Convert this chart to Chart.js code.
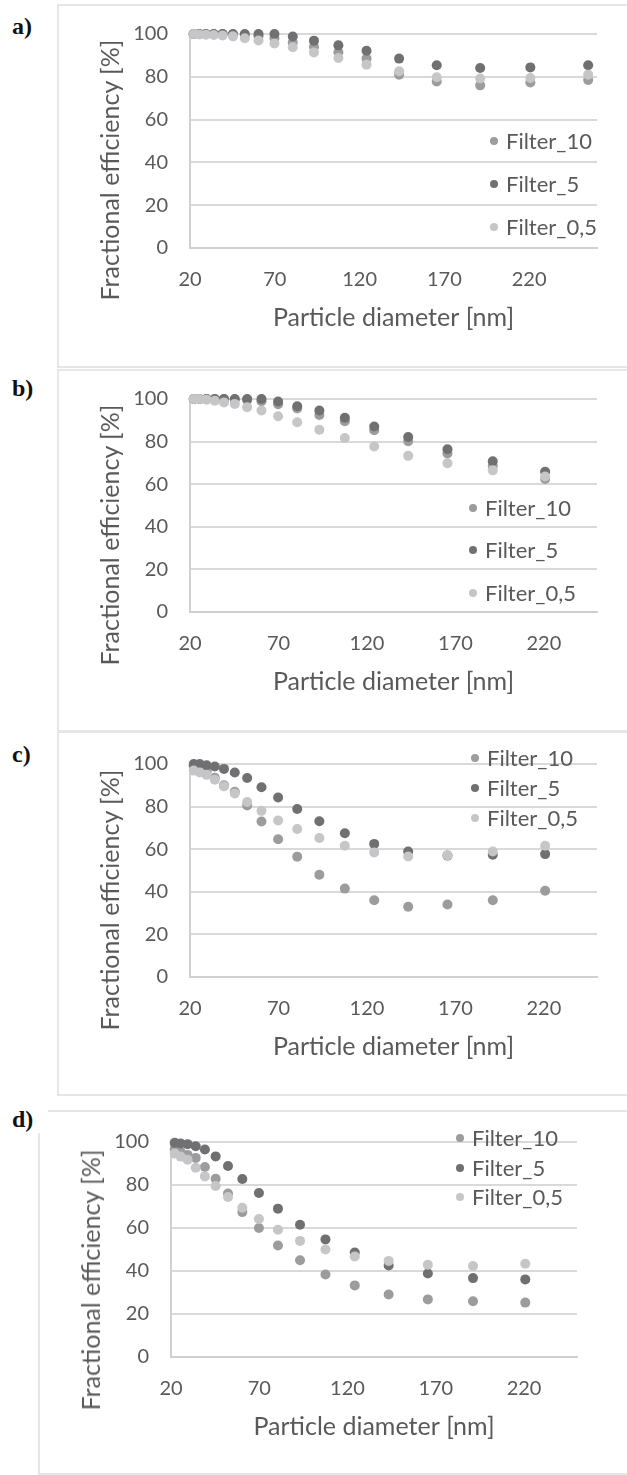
<!DOCTYPE html>
<html lang="en">
<head>
<meta charset="UTF-8">
<title>Fractional efficiency of filters</title>
<script src="https://cdn.jsdelivr.net/npm/chart.js"></script>
<style>
  body { margin: 0; background: #fff; width: 627px; height: 1475px; position: relative; overflow: hidden; font-family: Lato, "Open Sans", sans-serif; }
  .frame { position: absolute; box-sizing: border-box; border: 2px solid #e6e6e6; }
  .tag { position: absolute; left: 12px; font: bold 24px "Liberation Serif", serif; color: #111; line-height: 28px; }
  canvas { position: absolute; left: 0; }
  .ytitle { position: absolute; transform: translate(-50%, -50%) rotate(-90deg); white-space: nowrap; font-size: 25px; color: #595959; line-height: 30px; }
  .dot { position: absolute; width: 8px; height: 8px; border-radius: 50%; transform: translate(-50%, -50%); }
  .legtxt { position: absolute; font-size: 22px; color: #595959; line-height: 26px; white-space: nowrap; transform: translateY(-50%); }
</style>
</head>
<body>
  <div class="frame" style="left:57px; top:4px; width:600px; height:364px;"></div>
  <div class="frame" style="left:57px; top:369px; width:600px; height:363px;"></div>
  <div class="frame" style="left:57px; top:731px; width:600px; height:365px;"></div>
  <div class="frame" style="left:48px; top:1110px; width:600px; height:2px; border-width:2px 0 0 0;"></div>
  <div class="frame" style="left:38px; top:1133px; width:600px; height:342px; border-width:0 0 2px 2px;"></div>

  <div class="tag" style="top:12px;">a)</div>
  <div class="tag" style="top:374px;">b)</div>
  <div class="tag" style="top:740px;">c)</div>
  <div class="tag" style="top:1105px;">d)</div>

  <canvas id="chartA" width="627" height="365" style="top:0px;"></canvas>
  <canvas id="chartB" width="627" height="365" style="top:365px;"></canvas>
  <canvas id="chartC" width="627" height="365" style="top:730px;"></canvas>
  <canvas id="chartD" width="627" height="380" style="top:1095px;"></canvas>

<script>
// Particle diameters [nm] (panel a has one more size class than b, c, d)
const diamA = [22.1, 25.5, 29.4, 34.0, 39.2, 45.3, 52.3, 60.4, 69.8, 80.6, 93.1, 107.5, 124.1, 143.3, 165.5, 191.1, 220.7, 254.8];
const diam = [22.1, 25.5, 29.4, 34.0, 39.2, 45.3, 52.3, 60.4, 69.8, 80.6, 93.1, 107.5, 124.1, 143.3, 165.5, 191.1, 220.7];

// Fractional efficiency [%]
const a10 = [100, 100, 100, 100, 100, 99.8, 99.5, 99, 98, 96, 94, 91.5, 88.5, 81, 77.8, 76, 77.3, 78.5];
const a5 = [100, 100, 100, 100, 100, 100, 100, 100, 100, 98.8, 96.9, 94.7, 92.2, 88.5, 85.4, 84.1, 84.4, 85.4];
const a05 = [100, 99.8, 99.7, 99.5, 99.3, 98.9, 98, 97, 95.6, 93.8, 91.4, 88.8, 85.7, 82.6, 79.8, 79.2, 79.4, 81];

const b10 = [100, 100, 100, 100, 100, 99.8, 99.5, 99, 97.5, 95.5, 92.5, 89.6, 85.3, 80.2, 74.4, 68.5, 62.5];
const b5 = [100, 100, 100, 100, 100, 100, 100, 100, 98.8, 96.6, 94.6, 91.2, 87.1, 82.2, 76.4, 70.8, 65.8];
const b05 = [100, 100, 99.7, 99.2, 98.4, 97.7, 96.1, 94.6, 91.9, 89.1, 85.6, 81.7, 77.7, 73.3, 69.8, 66.5, 63.6];

const c10 = [99, 98, 96.5, 93.5, 90, 87, 80.5, 73, 64.7, 56.5, 48, 41.5, 36, 33, 34, 36, 40.5];
const c5 = [100, 100, 99.4, 98.8, 97.7, 96, 93.4, 89.1, 84.3, 78.9, 73.1, 67.5, 62.5, 58.9, 57, 57.4, 57.7];
const c05 = [96.9, 96, 94.9, 92.6, 89.5, 86.2, 82.2, 78, 73.5, 69.5, 65.3, 61.6, 58.5, 56.6, 57.1, 58.9, 61.6];

const d10 = [96.5, 95.5, 94, 92.6, 88.4, 82.9, 76, 67.4, 60, 51.9, 45, 38.4, 33.3, 29.1, 26.8, 25.9, 25.3];
const d5 = [99.6, 99.3, 99, 98, 96.5, 93.3, 88.8, 82.8, 76.3, 69, 61.5, 54.7, 48.6, 42.6, 38.8, 36.7, 36.1];
const d05 = [94.6, 93.2, 91.8, 88, 84, 79.5, 74.4, 69.4, 64.2, 59.2, 54, 50, 46.8, 44.7, 42.9, 42.3, 43.4];

const seriesNames = ['Filter_10', 'Filter_5', 'Filter_0,5'];
const seriesColors = ['#9c9c9f', '#707073', '#c6c6c8'];
const xTicks = [20, 70, 120, 170, 220];
const yMin = 0, yMax = 100, yStep = 20;
const xTitle = 'Particle diameter [nm]';
const yTitle = 'Fractional efficiency  [%]';

const txt = '#595959';
const tickFont = { family: 'Lato', size: 20 };
const titleFont = { family: 'Lato', size: 25 };

function makeChart(id, xs, sets, box) {
  const padL = 100;
  const xH = 90;
  const canvas = document.getElementById(id);
  new Chart(canvas.getContext('2d'), {
    type: 'scatter',
    data: {
      datasets: sets.map((vals, k) => ({
        label: seriesNames[k],
        data: xs.map((x, i) => ({ x: x, y: vals[i] })),
        backgroundColor: seriesColors[k],
        pointRadius: 5,
        pointHoverRadius: 5,
        pointBorderWidth: 0,
        clip: false,
        order: 3 - k
      }))
    },
    options: {
      responsive: false,
      animation: false,
      layout: {
        padding: { left: padL, right: 627 - box.right, top: box.top, bottom: canvas.height - box.bottom - xH }
      },
      plugins: { legend: { display: false }, tooltip: { enabled: false } },
      scales: {
        x: {
          type: 'linear',
          min: 20,
          max: box.xMax,
          afterBuildTicks: s => { s.ticks = xTicks.map(v => ({ value: v })); },
          afterFit: s => { s.height = xH; },
          grid: { display: false, drawTicks: false },
          border: { display: true, color: '#d0d0d0', width: 2 },
          ticks: { padding: 20, color: txt, font: tickFont, maxRotation: 0, autoSkip: false },
          title: { display: true, text: xTitle, color: txt, font: titleFont, padding: { top: 0, bottom: 5 } }
        },
        y: {
          min: yMin,
          max: yMax,
          afterFit: s => { s.width = box.left - padL; },
          grid: { color: '#d9d9d9', lineWidth: 2, drawTicks: false },
          border: { display: true, color: '#d0d0d0', width: 2 },
          ticks: { stepSize: yStep, padding: 22, color: txt, font: tickFont }
        }
      }
    }
  });
}

makeChart('chartA', diamA, [a10, a5, a05], { left: 190, right: 597, top: 33, bottom: 248, xMax: 260 });
makeChart('chartB', diam, [b10, b5, b05], { left: 190, right: 597, top: 33, bottom: 247, xMax: 250 });
makeChart('chartC', diam, [c10, c5, c05], { left: 190, right: 597, top: 32, bottom: 247, xMax: 250 });
makeChart('chartD', diam, [d10, d5, d05], { left: 171, right: 577, top: 47, bottom: 262, xMax: 250 });

// y axis titles and legends (HTML overlay)
const yTitlePos = [[109, 170], [109, 535], [109, 900], [90, 1280]];
yTitlePos.forEach(p => {
  const d = document.createElement('div');
  d.className = 'ytitle';
  d.textContent = yTitle;
  d.style.left = p[0] + 'px';
  d.style.top = p[1] + 'px';
  document.body.appendChild(d);
});

const legendPos = [
  { x: 494, rows: [141, 184, 227] },
  { x: 473, rows: [508, 550, 593] },
  { x: 475, rows: [758, 788, 818] },
  { x: 460, rows: [1138, 1168, 1197] }
];
legendPos.forEach(L => {
  L.rows.forEach((y, k) => {
    const dot = document.createElement('div');
    dot.className = 'dot';
    dot.style.left = L.x + 'px';
    dot.style.top = y + 'px';
    dot.style.background = seriesColors[k];
    document.body.appendChild(dot);
    const t = document.createElement('div');
    t.className = 'legtxt';
    t.style.left = (L.x + 12) + 'px';
    t.style.top = y + 'px';
    t.textContent = seriesNames[k];
    document.body.appendChild(t);
  });
});
</script>
</body>
</html>
